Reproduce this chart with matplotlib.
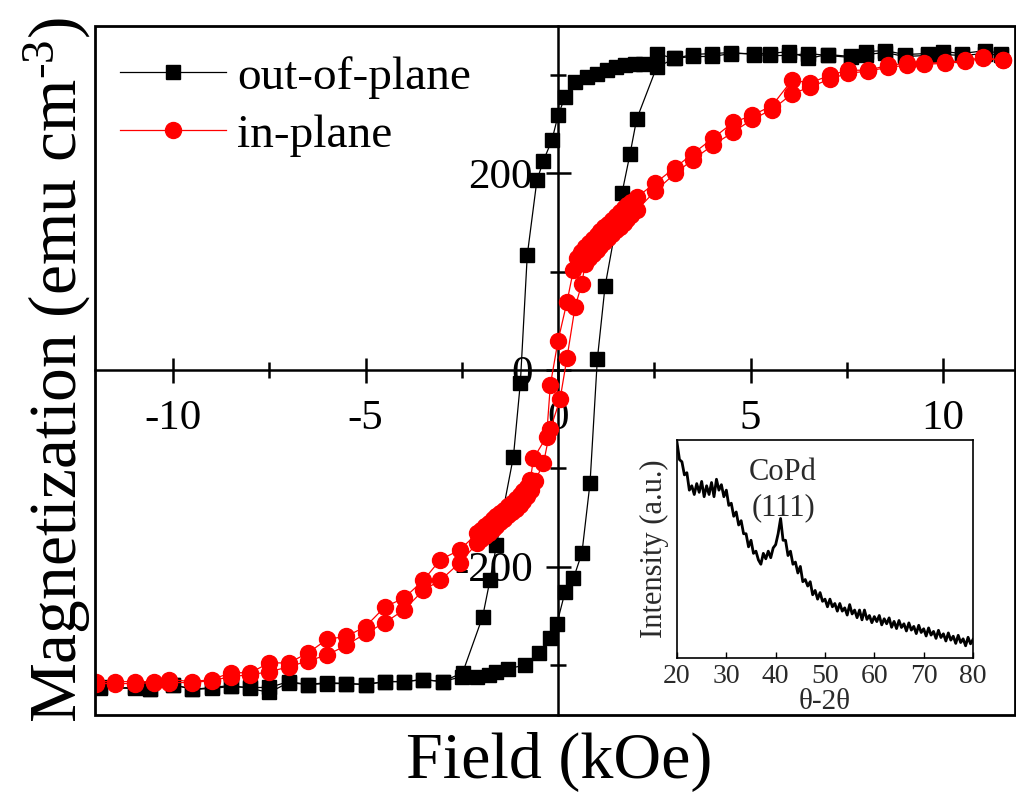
import numpy as np
import matplotlib
matplotlib.use("Agg")
import matplotlib.pyplot as plt
from matplotlib.ticker import MultipleLocator
from matplotlib.patches import Rectangle

plt.rcParams['font.family'] = ['Liberation Serif', 'DejaVu Serif']
plt.rcParams['mathtext.default'] = 'regular'
plt.rcParams['mathtext.fontset'] = 'custom'
plt.rcParams['mathtext.rm'] = 'Liberation Serif'
plt.rcParams['axes.unicode_minus'] = False

# ---------------- data: out-of-plane loop (black squares) ----------------
H_op_down = [11.5, 11.1, 10.5, 10.0, 9.6, 9.0, 8.5, 8.0, 7.6, 7.0, 6.5, 6.0, 5.5, 5.1,
             4.5, 4.0, 3.5, 3.0, 2.56, 2.2, 2.0, 1.75, 1.5, 1.27, 1.0, 0.76, 0.43, 0.18,
             0.0, -0.16, -0.38, -0.55, -0.8, -0.98, -1.16, -1.6, -1.77, -1.96, -2.48,
             -3.0, -3.5, -4.0, -4.5, -5.0, -5.5, -6.0, -6.5, -7.0, -7.5, -8.0, -8.5,
             -9.0, -9.5, -10.0, -10.6, -11.0, -11.9]
M_op_down = [322, 325, 322, 324, 322, 321, 325, 324, 319, 321, 317, 324, 322, 322,
             322, 319, 319, 317, 322, 311, 311, 310, 308, 305, 301, 298, 293, 278,
             259, 234, 213, 193, 117, -13, -88, -178, -214, -251, -308,
             -317, -315, -317, -317, -320, -319, -318, -320, -317, -323, -323, -322,
             -324, -325, -320, -325, -324, -323]
H_op_up = [-11.9, -11.0, -10.6, -10.0, -9.5, -9.0, -8.5, -8.0, -7.5, -7.0, -6.5, -6.0,
           -5.5, -5.0, -4.5, -4.0, -3.5, -3.0, -2.5, -2.1, -1.8, -1.6, -1.3, -0.85,
           -0.5, -0.2, -0.03, 0.18, 0.4, 0.62, 0.83, 1.02, 1.22, 1.66, 1.87, 2.04,
           2.56, 3.03, 3.5, 4.0, 4.5, 5.1, 5.5, 6.0, 6.5, 7.0, 7.6, 8.0, 8.5, 9.0,
           9.6, 10.0, 10.5, 11.1, 11.5]
M_op_up = [-324, -323, -325, -320, -325, -323, -321, -324, -328, -318, -320, -319,
           -319, -320, -317, -317, -315, -317, -312, -312, -310, -307, -304, -300,
           -288, -273, -258, -226, -212, -186, -115, 11, 85, 180, 220, 255,
           308, 317, 321, 322, 323, 321, 320, 320, 322, 320, 318, 321, 323, 319,
           320, 321, 320, 322, 320]

# ---------------- data: in-plane loop (red circles) ----------------
H_ip_down = [11.56, 11.04, 10.57, 10.05, 9.5, 9.06, 8.57, 8.05, 7.53, 7.06, 6.55, 6.08,
             5.56, 5.04, 4.55, 4.03, 3.5, 3.04, 2.52, 2.05, 1.9, 1.8, 1.7, 1.6, 1.5,
             1.4, 1.3, 1.2, 1.1, 1.0, 0.9, 0.8, 0.7, 0.6, 0.5, 0.4, 0.23, 0.0, -0.2,
             -0.3, -0.64, -0.72, -0.8, -0.9, -1.0, -1.1, -1.2, -1.3, -1.4, -1.5, -1.6,
             -1.7, -1.8, -1.9, -2.0, -2.1, -2.55, -3.06, -3.5, -4.0, -4.5, -5.0, -5.5,
             -6.0, -6.5, -7.0, -7.5, -8.0, -8.5, -9.0, -9.5, -10.1, -10.5, -11.0,
             -11.5, -12.0]
M_ip_down = [315, 318, 315, 313, 312, 312, 310, 305, 305, 300, 292, 295,
             269, 259, 252, 236, 220, 206, 190, 176, 171, 168, 165, 161, 157,
             153, 149, 145, 141, 137, 133, 129, 125, 120, 114, 102, 69, 30, -15,
             -68, -90, -112, -119, -123, -127, -131, -135, -138, -142, -145, -149,
             -152, -156, -159, -163, -166, -183, -193, -214, -232, -241, -261, -271,
             -274, -288, -298, -298, -308, -308, -315, -317, -315, -317, -317,
             -317, -317]
H_ip_up = [-12.0, -11.5, -11.0, -10.5, -10.1, -9.5, -9.0, -8.5, -8.0, -7.5, -7.0, -6.5,
           -6.0, -5.5, -5.0, -4.5, -4.0, -3.5, -3.06, -2.55, -2.1, -2.0, -1.9, -1.8,
           -1.7, -1.6, -1.5, -1.4, -1.3, -1.2, -1.1, -1.0, -0.9, -0.8, -0.7, -0.6,
           -0.38, -0.2, 0.05, 0.23, 0.44, 0.62, 0.7, 0.8, 0.9, 1.0, 1.1, 1.2, 1.3,
           1.4, 1.5, 1.6, 1.7, 1.8, 1.9, 2.05, 2.52, 3.04, 3.5, 4.03, 4.55, 5.04,
           5.56, 6.08, 6.55, 7.06, 7.53, 8.05, 8.57, 9.06, 9.5, 10.05, 10.57, 11.04,
           11.56]
M_ip_up = [-319, -319, -319, -318, -318, -318, -316, -312, -310, -307, -302, -296,
           -290, -280, -268, -257, -244, -224, -214, -196, -176, -172, -169, -166,
           -162, -159, -155, -152, -148, -144, -141, -137, -133, -128, -122, -113,
           -95, -60, -30, 12, 64, 88, 108, 114, 118, 122, 126, 130, 134,
           138, 142, 146, 150, 154, 158, 163, 182, 200, 214, 229, 242, 255,
           265, 281, 288, 296, 302, 304, 308, 310, 311, 312, 314, 317,
           315]

# ---------------- data: inset XRD (theta-2theta), 0.5 deg steps 20..80 ----------------
xrd_intensity = [99, 91, 90, 84, 85, 77, 79, 75, 80, 76, 81, 74, 79, 75, 80.5, 74, 82, 77,
                 79.5, 74, 77, 70, 71, 65, 67, 61, 63, 57, 57, 51, 54, 48, 49, 45, 43, 48,
                 45.5, 49, 46, 50.5, 52, 57, 64, 54, 54, 47, 49, 43, 44, 39, 42, 35, 36,
                 33, 35, 29, 31, 27, 30, 26, 27, 23.5, 27, 23.5, 25, 21.5, 25, 21.5, 23,
                 19.7, 24.5, 20.2, 22, 18.5, 22, 17.5, 22, 17.7, 19.5, 16.2, 19, 16.7,
                 19.5, 15.2, 18, 15.7, 18.4, 14.1, 16.8, 13.5, 17.2, 14, 15.7, 12.4, 16.1,
                 12.8, 14.5, 11.2, 15, 11.7, 13.4, 10.1, 13.8, 10.5, 12.2, 9, 12.7, 9.4,
                 11.1, 7.8, 11.5, 8.2, 10, 6.7, 10.4, 7.1, 8.8, 5.6, 9.5, 6.5, 8.5]
xrd_angle = np.linspace(20, 80, len(xrd_intensity))

x_ticks_major = [-10, -5, 0, 5, 10]
y_ticks_major = [-200, 0, 200]
inset_ticks = [20, 30, 40, 50, 60, 70, 80]

# ---------------- figure ----------------
W, H = 1016, 794
fig = plt.figure(figsize=(W / 100, H / 100), dpi=100)
ax = fig.add_axes([95 / W, 1 - 715 / H, 920 / W, 689 / H])

ax.plot(H_op_down, M_op_down, '-', color='black', lw=0.9, marker='s', ms=10,
        mfc='black', mec='black', zorder=3, label='out-of-plane')
ax.plot(H_op_up, M_op_up, '-', color='black', lw=0.9, marker='s', ms=10,
        mfc='black', mec='black', zorder=3)
ax.plot(H_ip_down, M_ip_down, '-', color='red', lw=0.9, marker='o', ms=11.5,
        mfc='red', mec='red', zorder=4, label='in-plane')
ax.plot(H_ip_up, M_ip_up, '-', color='red', lw=0.9, marker='o', ms=11.5,
        mfc='red', mec='red', zorder=4)

ax.set_xlim(-12.03, 11.87)
ax.set_ylim(-351, 350)

for s in ['top', 'right']:
    ax.spines[s].set_visible(False)
ax.spines['left'].set_position(('data', 0))
ax.spines['bottom'].set_position(('data', 0))
ax.spines['left'].set_linewidth(1.8)
ax.spines['bottom'].set_linewidth(1.8)
ax.add_patch(Rectangle((0, 0), 1, 1, transform=ax.transAxes, fill=False,
                       lw=2.0, ec='black', clip_on=False, zorder=5))

ax.set_xticks(x_ticks_major)
ax.set_yticks(y_ticks_major)
ax.xaxis.set_minor_locator(MultipleLocator(2.5))
ax.yaxis.set_minor_locator(MultipleLocator(100))
ax.tick_params(which='major', direction='inout', length=18, width=1.8,
               labelsize=31)
ax.tick_params(which='minor', direction='inout', length=11, width=1.8)
ax.tick_params(axis='x', which='major', pad=12)
ax.tick_params(axis='y', which='major', pad=9)

leg = ax.legend(loc='upper left', bbox_to_anchor=(0.027, 0.957), frameon=False,
                fontsize=34, handlelength=2.24, handletextpad=0.25,
                labelspacing=0.32, borderpad=0, borderaxespad=0, numpoints=1)

fig.text(559 / W, 1 - 778 / H, 'Field (kOe)', fontsize=47.5, ha='center',
         va='baseline')
fig.text(77 / W, 1 - 370 / H, r'Magnetization (emu cm$^{\text{-3}}$)', fontsize=48.5,
         rotation=90, rotation_mode='anchor', ha='center', va='baseline')

# ---------------- inset ----------------
gray = '#2a2a2a'
axi = fig.add_axes([677 / W, 1 - 658 / H, 296 / W, 218 / H])
axi.plot(xrd_angle, xrd_intensity, '-', color='black', lw=2.0)
axi.set_xlim(20, 80)
axi.set_ylim(0, 100)
axi.set_yticks([])
axi.set_xticks(inset_ticks)
axi.tick_params(axis='x', direction='in', length=4, width=1, pad=4,
                labelsize=20, labelcolor=gray)
for s in axi.spines.values():
    s.set_linewidth(1.2)
axi.set_xlabel('θ-2θ', fontsize=21, color=gray, labelpad=0)
axi.set_ylabel('Intensity (a.u.)', fontsize=22, color=gray, labelpad=6)
axi.text(41.5, 77, 'CoPd\n(111)', fontsize=22, color=gray, ha='center',
         va='center', linespacing=1.3)

fig.savefig('out.png', dpi=100)
